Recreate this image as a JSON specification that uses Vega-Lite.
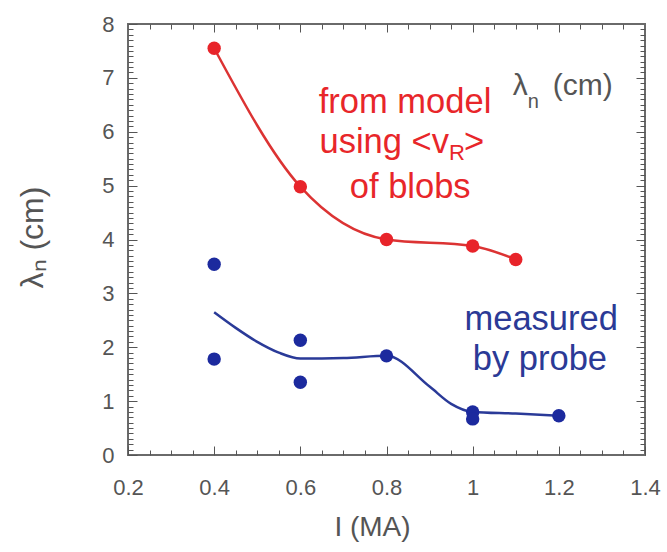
{
  "$schema": "https://vega.github.io/schema/vega-lite/v6.json",
  "width": 517,
  "height": 431,
  "autosize": {"type": "none"},
  "padding": {"left": 128, "top": 24, "right": 22, "bottom": 97},
  "background": "white",
  "config": {
    "view": {"stroke": "#6a6a6a", "strokeWidth": 2},
    "font": "Liberation Sans",
    "axis": {"grid": false}
  },
  "datasets": {
    "model": [
      {"I": 0.4, "L": 7.55},
      {"I": 0.6, "L": 4.98},
      {"I": 0.8, "L": 4.0},
      {"I": 1.0, "L": 3.88},
      {"I": 1.1, "L": 3.63}
    ],
    "probe": [
      {"I": 0.4, "L": 3.54},
      {"I": 0.4, "L": 1.78},
      {"I": 0.6, "L": 2.13},
      {"I": 0.6, "L": 1.35},
      {"I": 0.8, "L": 1.84},
      {"I": 1.0, "L": 0.8},
      {"I": 1.0, "L": 0.67},
      {"I": 1.2, "L": 0.73}
    ],
    "fit": [
      {"I": 0.4, "L": 2.65},
      {"I": 0.45, "L": 2.36},
      {"I": 0.5, "L": 2.1},
      {"I": 0.55, "L": 1.9},
      {"I": 0.6, "L": 1.79},
      {"I": 0.7, "L": 1.8},
      {"I": 0.8, "L": 1.84},
      {"I": 0.9, "L": 1.27},
      {"I": 0.95, "L": 0.95},
      {"I": 1.0, "L": 0.8},
      {"I": 1.1, "L": 0.77},
      {"I": 1.2, "L": 0.73}
    ],
    "redtext": [
      {"t": "from model", "I": 0.843, "L": 6.345},
      {"t": "of blobs", "I": 0.855, "L": 4.77}
    ],
    "bluetext": [
      {"t": "measured", "I": 1.159, "L": 2.32},
      {"t": "by probe", "I": 1.156, "L": 1.58}
    ]
  },
  "resolve": {"axis": {"x": "independent", "y": "independent"}},
  "layer": [
    {
      "data": {"name": "model"},
      "mark": {"type": "line", "interpolate": "monotone", "color": "#dc3333", "strokeWidth": 2.5},
      "encoding": {
        "x": {"field": "I", "type": "quantitative", "scale": {"domain": [0.2, 1.4], "nice": false, "zero": false},
          "axis": {"orient": "bottom", "domain": false, "zindex": 1,
            "values": [0.2, 0.4, 0.6, 0.8, 1.0, 1.2, 1.4], "format": "~g",
            "labelFlush": false, "tickColor": "#555555", "tickSize": -9,
            "labelFontSize": 22, "labelColor": "#555555", "labelPadding": 31,
            "title": "I (MA)", "titleFontSize": 28, "titleFontWeight": "normal", "titleColor": "#555555", "titleX": 244, "titleY": 72, "titleBaseline": "middle"}},
        "y": {"field": "L", "type": "quantitative", "scale": {"domain": [0, 8], "nice": false, "zero": false},
          "axis": {"orient": "left", "domain": false, "zindex": 1,
            "values": [0, 1, 2, 3, 4, 5, 6, 7, 8],
            "labelFlush": false, "tickColor": "#555555", "tickSize": -9,
            "labelFontSize": 22, "labelColor": "#555555", "labelPadding": 23,
            "title": "λₙ (cm)", "titleFontSize": 32, "titleFontWeight": "normal", "titleColor": "#555555", "titleX": -96, "titleY": 213, "titleBaseline": "middle", "titleAngle": -90}}
      }
    },
    {
      "data": {"name": "model"},
      "mark": {"type": "point", "filled": true, "size": 180, "color": "#e8242a", "opacity": 1},
      "encoding": {
        "x": {"field": "I", "type": "quantitative", "axis": null},
        "y": {"field": "L", "type": "quantitative", "axis": null}
      }
    },
    {
      "data": {"name": "fit"},
      "mark": {"type": "line", "interpolate": "monotone", "color": "#2a3a98", "strokeWidth": 2.5},
      "encoding": {
        "x": {"field": "I", "type": "quantitative", "axis": null},
        "y": {"field": "L", "type": "quantitative", "axis": null}
      }
    },
    {
      "data": {"name": "probe"},
      "mark": {"type": "point", "filled": true, "size": 180, "color": "#1c2a9e", "opacity": 1},
      "encoding": {
        "x": {"field": "I", "type": "quantitative", "axis": null},
        "y": {"field": "L", "type": "quantitative", "axis": null}
      }
    },
    {
      "data": {"name": "redtext"},
      "mark": {"type": "text", "color": "#e8262a", "fontSize": 34.5, "align": "center", "baseline": "alphabetic"},
      "encoding": {
        "x": {"field": "I", "type": "quantitative", "axis": null},
        "y": {"field": "L", "type": "quantitative", "axis": null},
        "text": {"field": "t"}
      }
    },
    {
      "data": {"values": [{"t": "using <v", "I": 0.945, "L": 5.6}]},
      "mark": {"type": "text", "color": "#e8262a", "fontSize": 34.5, "align": "right", "baseline": "alphabetic"},
      "encoding": {
        "x": {"field": "I", "type": "quantitative", "axis": null},
        "y": {"field": "L", "type": "quantitative", "axis": null},
        "text": {"field": "t"}
      }
    },
    {
      "data": {"values": [{"t": "R", "I": 0.945, "L": 5.6}]},
      "mark": {"type": "text", "color": "#e8262a", "fontSize": 22, "align": "left", "baseline": "alphabetic", "dy": 7},
      "encoding": {
        "x": {"field": "I", "type": "quantitative", "axis": null},
        "y": {"field": "L", "type": "quantitative", "axis": null},
        "text": {"field": "t"}
      }
    },
    {
      "data": {"values": [{"t": ">", "I": 0.98, "L": 5.6}]},
      "mark": {"type": "text", "color": "#e8262a", "fontSize": 34.5, "align": "left", "baseline": "alphabetic"},
      "encoding": {
        "x": {"field": "I", "type": "quantitative", "axis": null},
        "y": {"field": "L", "type": "quantitative", "axis": null},
        "text": {"field": "t"}
      }
    },
    {
      "data": {"name": "bluetext"},
      "mark": {"type": "text", "color": "#2b3a96", "fontSize": 34.5, "align": "center", "baseline": "alphabetic"},
      "encoding": {
        "x": {"field": "I", "type": "quantitative", "axis": null},
        "y": {"field": "L", "type": "quantitative", "axis": null},
        "text": {"field": "t"}
      }
    },
    {
      "data": {"values": [{"t": "λ", "I": 1.128, "L": 6.68}]},
      "mark": {"type": "text", "color": "#555555", "fontSize": 30, "align": "right", "baseline": "alphabetic"},
      "encoding": {
        "x": {"field": "I", "type": "quantitative", "axis": null},
        "y": {"field": "L", "type": "quantitative", "axis": null},
        "text": {"field": "t"}
      }
    },
    {
      "data": {"values": [{"t": "n", "I": 1.128, "L": 6.68}]},
      "mark": {"type": "text", "color": "#555555", "fontSize": 20, "align": "left", "baseline": "alphabetic", "dy": 13},
      "encoding": {
        "x": {"field": "I", "type": "quantitative", "axis": null},
        "y": {"field": "L", "type": "quantitative", "axis": null},
        "text": {"field": "t"}
      }
    },
    {
      "data": {"values": [{"t": "(cm)", "I": 1.186, "L": 6.68}]},
      "mark": {"type": "text", "color": "#555555", "fontSize": 30, "align": "left", "baseline": "alphabetic"},
      "encoding": {
        "x": {"field": "I", "type": "quantitative", "axis": null},
        "y": {"field": "L", "type": "quantitative", "axis": null},
        "text": {"field": "t"}
      }
    },
    {
      "data": {"name": "model"},
      "mark": {"type": "point", "opacity": 0},
      "encoding": {
        "x": {"field": "I", "type": "quantitative",
          "axis": {"orient": "bottom", "labels": false, "title": null, "domain": false, "zindex": 1, "tickColor": "#555555", "tickSize": -5,
            "values": [0.25, 0.3, 0.35, 0.45, 0.5, 0.55, 0.65, 0.7, 0.75, 0.85, 0.9, 0.95, 1.05, 1.1, 1.15, 1.25, 1.3, 1.35]}},
        "y": {"field": "L", "type": "quantitative",
          "axis": {"orient": "left", "labels": false, "title": null, "domain": false, "zindex": 1, "tickColor": "#555555", "tickSize": -5,
            "values": [0.1,0.2,0.3,0.4,0.5,0.6,0.7,0.8,0.9,1.1,1.2,1.3,1.4,1.5,1.6,1.7,1.8,1.9,2.1,2.2,2.3,2.4,2.5,2.6,2.7,2.8,2.9,3.1,3.2,3.3,3.4,3.5,3.6,3.7,3.8,3.9,4.1,4.2,4.3,4.4,4.5,4.6,4.7,4.8,4.9,5.1,5.2,5.3,5.4,5.5,5.6,5.7,5.8,5.9,6.1,6.2,6.3,6.4,6.5,6.6,6.7,6.8,6.9,7.1,7.2,7.3,7.4,7.5,7.6,7.7,7.8,7.9]}}
      }
    },
    {
      "data": {"name": "model"},
      "mark": {"type": "point", "opacity": 0},
      "encoding": {
        "x": {"field": "I", "type": "quantitative",
          "axis": {"orient": "top", "labels": false, "title": null, "domain": false, "zindex": 1, "tickColor": "#555555", "tickSize": -8,
            "values": [0.4, 0.6, 0.8, 1.0, 1.2]}},
        "y": {"field": "L", "type": "quantitative",
          "axis": {"orient": "right", "labels": false, "title": null, "domain": false, "zindex": 1, "tickColor": "#555555", "tickSize": -9,
            "values": [1, 2, 3, 4, 5, 6, 7]}}
      }
    },
    {
      "data": {"name": "model"},
      "mark": {"type": "point", "opacity": 0},
      "encoding": {
        "x": {"field": "I", "type": "quantitative",
          "axis": {"orient": "top", "labels": false, "title": null, "domain": false, "zindex": 1, "tickColor": "#555555", "tickSize": -5,
            "values": [0.25, 0.3, 0.35, 0.45, 0.5, 0.55, 0.65, 0.7, 0.75, 0.85, 0.9, 0.95, 1.05, 1.1, 1.15, 1.25, 1.3, 1.35]}},
        "y": {"field": "L", "type": "quantitative",
          "axis": {"orient": "right", "labels": false, "title": null, "domain": false, "zindex": 1, "tickColor": "#555555", "tickSize": -5,
            "values": [0.1,0.2,0.3,0.4,0.5,0.6,0.7,0.8,0.9,1.1,1.2,1.3,1.4,1.5,1.6,1.7,1.8,1.9,2.1,2.2,2.3,2.4,2.5,2.6,2.7,2.8,2.9,3.1,3.2,3.3,3.4,3.5,3.6,3.7,3.8,3.9,4.1,4.2,4.3,4.4,4.5,4.6,4.7,4.8,4.9,5.1,5.2,5.3,5.4,5.5,5.6,5.7,5.8,5.9,6.1,6.2,6.3,6.4,6.5,6.6,6.7,6.8,6.9,7.1,7.2,7.3,7.4,7.5,7.6,7.7,7.8,7.9]}}
      }
    }
  ]
}
